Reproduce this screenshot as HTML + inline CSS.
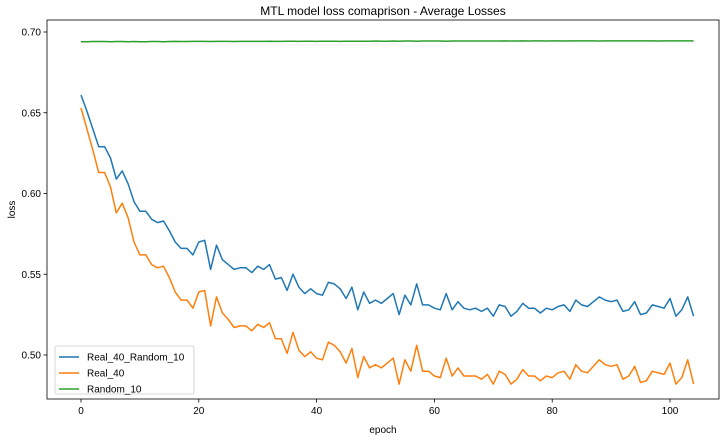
<!DOCTYPE html>
<html><head><meta charset="utf-8"><style>
body{margin:0;background:#fff;font-family:"Liberation Sans",sans-serif}
svg text{font-family:"Liberation Sans",sans-serif;fill:#000}
</style></head><body>
<svg id="c" width="727" height="441"></svg>
<script>
const epochs=[];for(let i=0;i<105;i++)epochs.push(i);
const blue=[0.661,0.651,0.640,0.629,0.629,0.622,0.609,0.614,0.606,0.595,0.589,0.589,0.584,0.582,0.583,0.577,0.570,0.566,0.566,0.562,0.570,0.571,0.553,0.568,0.559,0.556,0.553,0.554,0.554,0.551,0.555,0.553,0.556,0.547,0.548,0.540,0.550,0.542,0.538,0.541,0.538,0.537,0.545,0.544,0.541,0.535,0.542,0.528,0.539,0.532,0.534,0.532,0.535,0.538,0.525,0.537,0.531,0.544,0.531,0.531,0.529,0.528,0.538,0.528,0.533,0.529,0.528,0.529,0.527,0.529,0.524,0.531,0.530,0.524,0.527,0.532,0.529,0.529,0.526,0.529,0.528,0.530,0.531,0.527,0.534,0.531,0.530,0.533,0.536,0.534,0.533,0.534,0.527,0.528,0.533,0.525,0.526,0.531,0.530,0.529,0.535,0.524,0.528,0.536,0.524];
const orange=[0.653,0.640,0.627,0.613,0.613,0.604,0.588,0.594,0.585,0.570,0.562,0.562,0.556,0.554,0.555,0.548,0.539,0.534,0.534,0.529,0.539,0.540,0.518,0.536,0.526,0.522,0.517,0.518,0.518,0.515,0.519,0.517,0.520,0.510,0.510,0.501,0.514,0.503,0.499,0.502,0.498,0.497,0.508,0.506,0.502,0.495,0.504,0.486,0.499,0.492,0.494,0.492,0.495,0.498,0.482,0.497,0.490,0.506,0.490,0.490,0.487,0.486,0.498,0.487,0.492,0.487,0.487,0.487,0.485,0.488,0.482,0.490,0.488,0.482,0.485,0.491,0.487,0.487,0.484,0.487,0.486,0.489,0.490,0.485,0.494,0.490,0.489,0.493,0.497,0.494,0.493,0.494,0.485,0.487,0.493,0.483,0.484,0.490,0.489,0.488,0.495,0.482,0.486,0.497,0.482];
const green=[0.6940,0.6940,0.6941,0.6941,0.6941,0.6940,0.6941,0.6941,0.6940,0.6941,0.6940,0.6940,0.6941,0.6941,0.6940,0.6941,0.6942,0.6941,0.6941,0.6942,0.6942,0.6942,0.6941,0.6942,0.6942,0.6942,0.6941,0.6942,0.6942,0.6942,0.6942,0.6942,0.6943,0.6942,0.6942,0.6943,0.6943,0.6942,0.6943,0.6943,0.6942,0.6943,0.6943,0.6943,0.6942,0.6943,0.6943,0.6943,0.6943,0.6943,0.6944,0.6943,0.6943,0.6944,0.6943,0.6944,0.6944,0.6943,0.6944,0.6944,0.6944,0.6944,0.6943,0.6944,0.6944,0.6944,0.6944,0.6944,0.6944,0.6944,0.6944,0.6944,0.6945,0.6944,0.6944,0.6945,0.6944,0.6945,0.6945,0.6944,0.6945,0.6945,0.6944,0.6945,0.6945,0.6945,0.6945,0.6945,0.6944,0.6945,0.6945,0.6945,0.6945,0.6945,0.6945,0.6945,0.6945,0.6945,0.6944,0.6945,0.6945,0.6945,0.6945,0.6945,0.6945];
const xTicks=[0,20,40,60,80,100];
const yTicks=[0.50,0.55,0.60,0.65,0.70];
const seriesNames=["Real_40_Random_10","Real_40","Random_10"];
const colors=["#1f77b4","#ff7f0e","#2ca02c"];

const NS="http://www.w3.org/2000/svg";
const svg=document.getElementById('c');
const L=47,R=719,T=20,B=399;
const x=v=>81+(v-0)*(670-81)/100;
const y=v=>355-(v-0.5)*(355-32)/0.2;
function mk(tag,attrs,parent){const e=document.createElementNS(NS,tag);for(const k in attrs)e.setAttribute(k,attrs[k]);(parent||svg).appendChild(e);return e;}

const title=mk('text',{x:(L+R)/2,y:15,'text-anchor':'middle','font-size':12});
title.textContent="MTL model loss comaprison - Average Losses";



xTicks.forEach(t=>{
  const g=mk('g',{});
  
  
  mk('line',{x1:x(t),x2:x(t),y1:B,y2:B+3.5,stroke:'#000','stroke-width':0.8},g);
  const tx=mk('text',{x:x(t),y:B+15,'text-anchor':'middle','font-size':10},g);tx.textContent=t;
});
yTicks.forEach(t=>{
  const g=mk('g',{});
  
  
  mk('line',{x1:L-3.5,x2:L,y1:y(t),y2:y(t),stroke:'#000','stroke-width':0.8},g);
  const tx=mk('text',{x:L-6,y:y(t)+3.5,'text-anchor':'end','font-size':10},g);tx.textContent=t.toFixed(2);
});
const xl=mk('text',{x:(L+R)/2,y:433,'text-anchor':'middle','font-size':10});xl.textContent='epoch';


const yl=mk('text',{x:15,y:(T+B)/2,'text-anchor':'middle','font-size':10,transform:'rotate(-90 15 '+((T+B)/2)+')'});yl.textContent='loss';



[blue,orange,green].forEach((s,i)=>{
  const d=s.map((v,j)=>(j?'L':'M')+x(epochs[j]).toFixed(1)+','+y(v).toFixed(1)).join('');
  const p=mk('path',{d:d,fill:'none',stroke:colors[i],'stroke-width':1.5,'stroke-linejoin':'round'});
  
  
});
const frame=mk('rect',{x:L,y:T,width:R-L,height:B-T,fill:'none',stroke:'#000','stroke-width':0.8});



const lg=mk('g',{});


mk('rect',{x:55,y:346,width:139,height:48,rx:2,fill:'#fff','fill-opacity':0.8,stroke:'#ccc','stroke-width':0.8},lg);
seriesNames.forEach((n,i)=>{
  const yy=357+i*16;
  const e=mk('g',{},lg);
  
  
  mk('line',{x1:59,x2:79,y1:yy,y2:yy,stroke:colors[i],'stroke-width':1.5},e);
  const t=mk('text',{x:87,y:yy+3.5,'font-size':10},e);t.textContent=n;
});
</script>
</body></html>
